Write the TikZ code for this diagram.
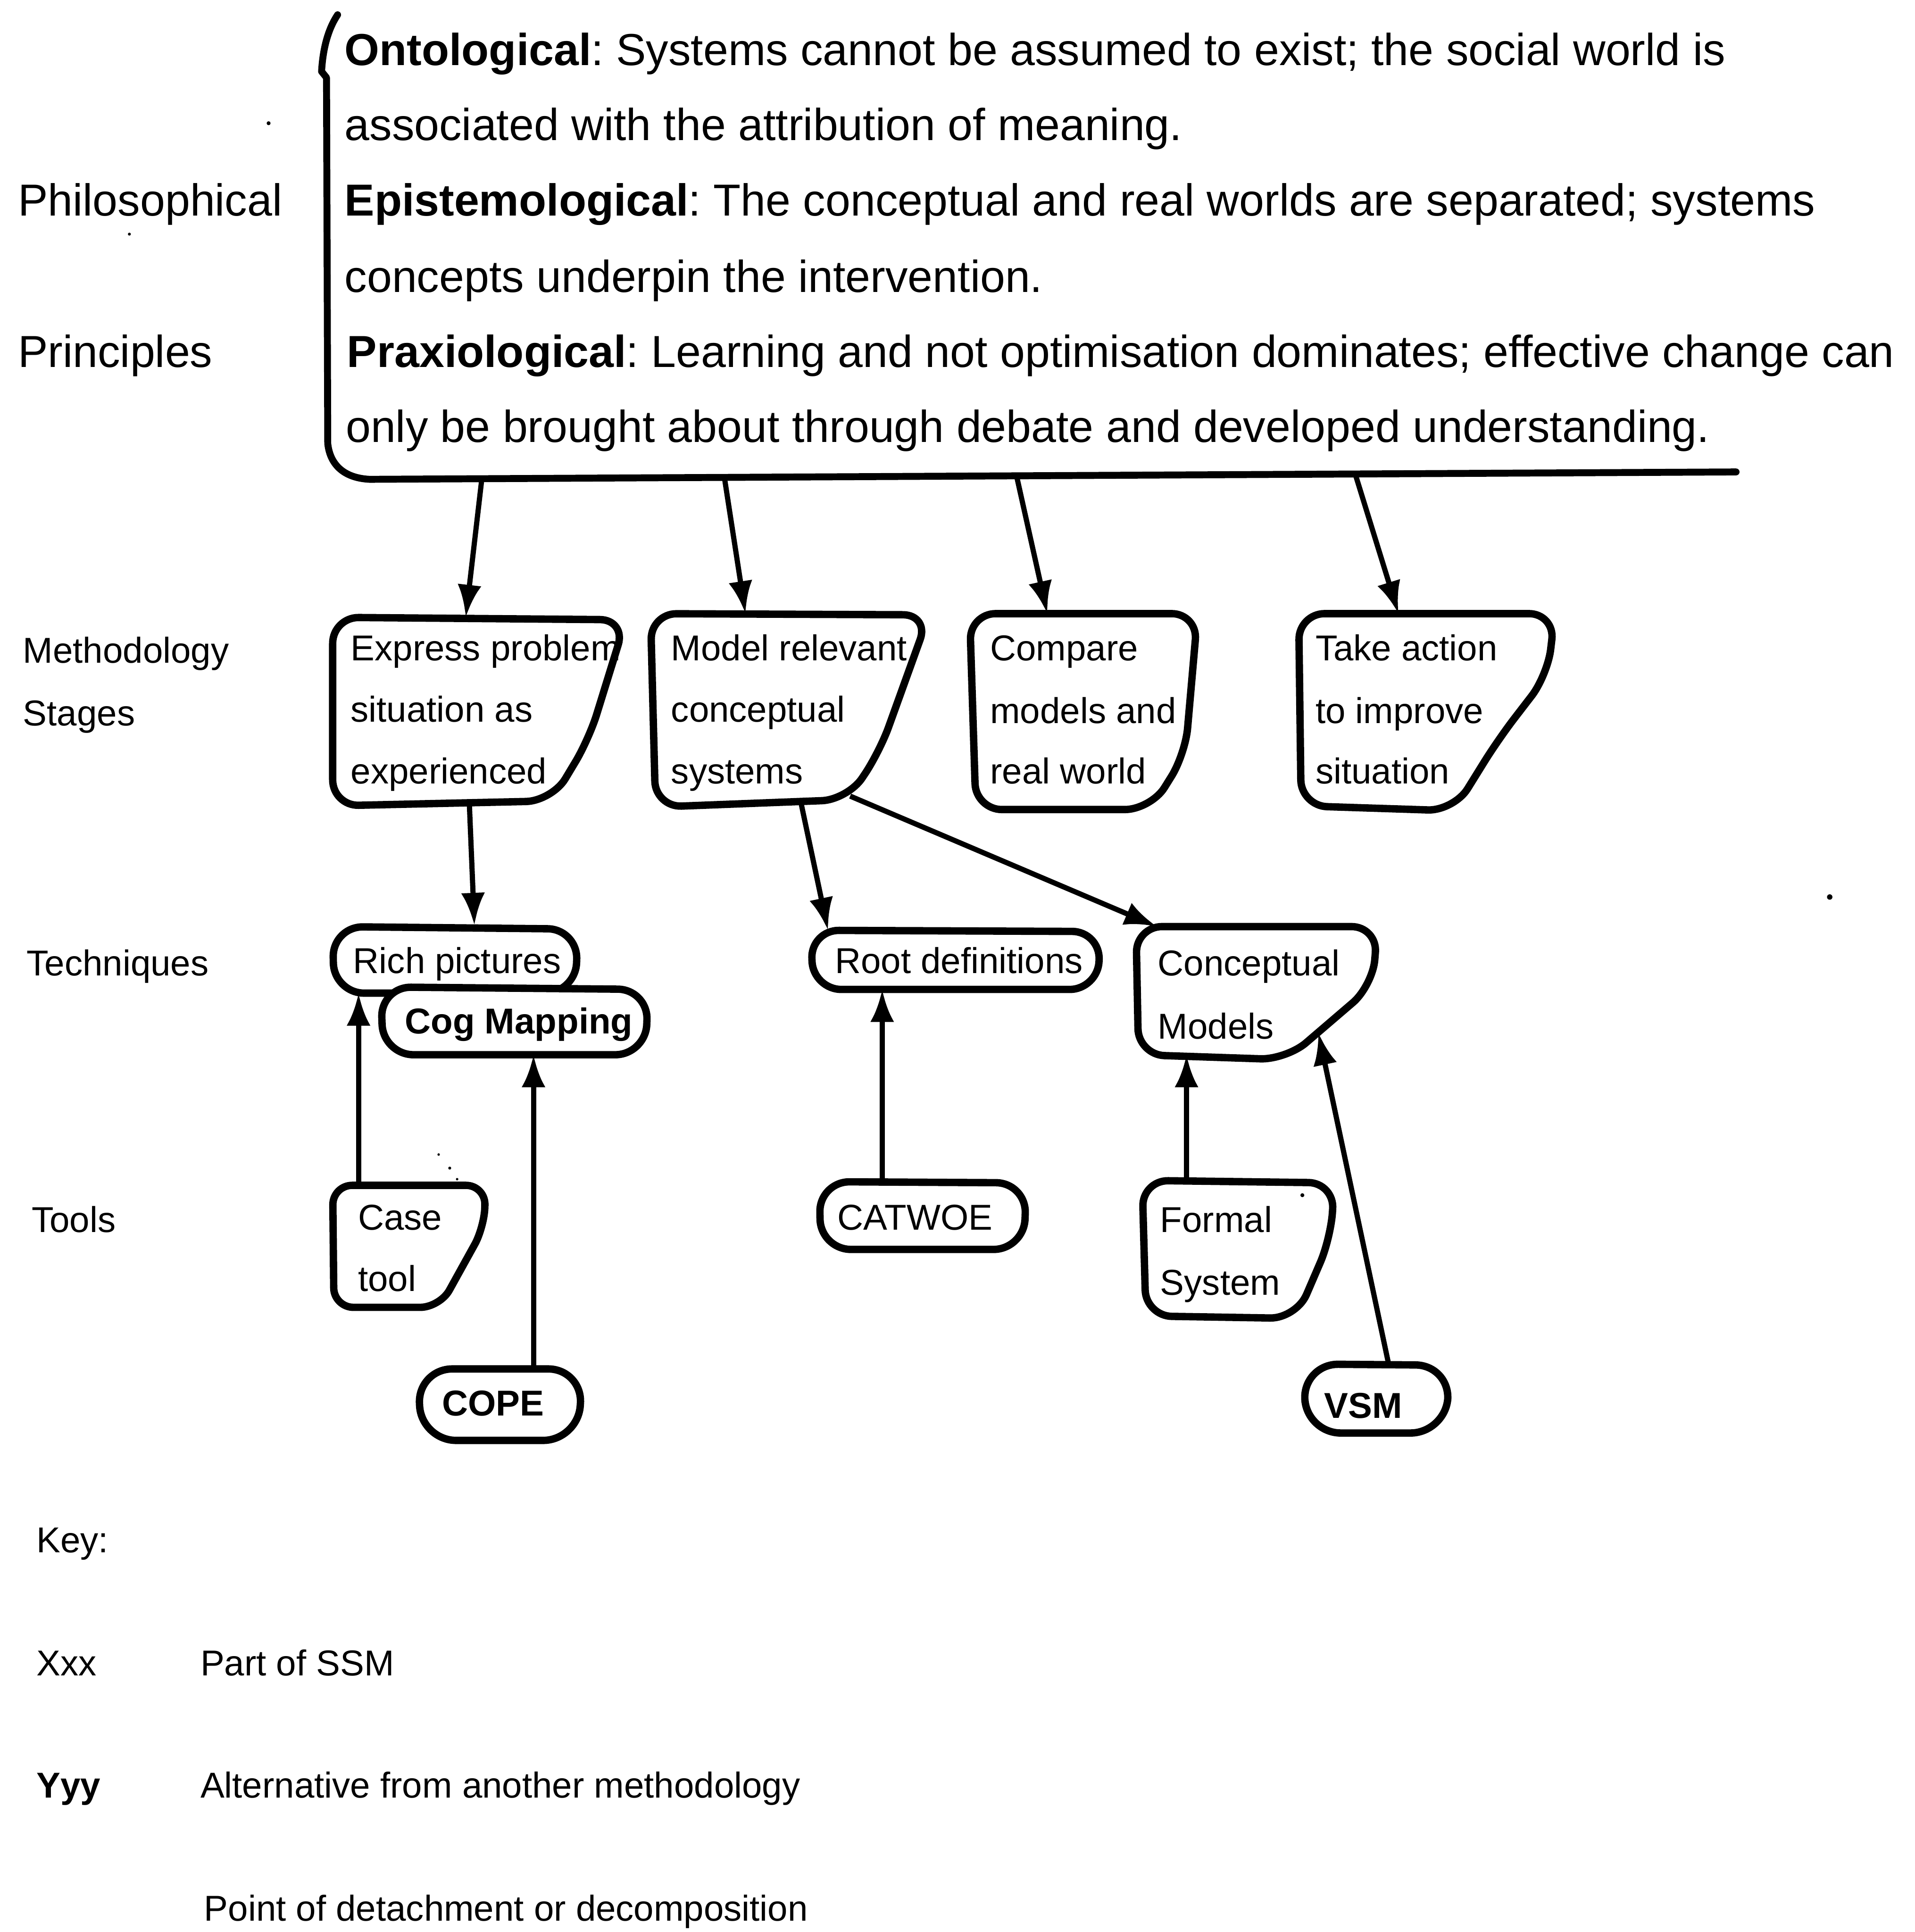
\documentclass[tikz,border=0pt]{standalone}
\usepackage{fontspec}
\setmainfont{Liberation Sans}
\usetikzlibrary{arrows.meta,calc}
\frenchspacing

\tikzset{
  outline/.style={line width=1.7pt, line join=round, rounded corners=6pt, fill=white},
  pill/.style={outline, rounded corners=7pt},
  bracket/.style={line width=1.6pt, line join=round, line cap=round},
  conn/.style={line width=1.2pt, -{Latex[length=7.5pt,width=5.5pt]}},
  frame/.style={draw=none, inner sep=0pt, outer sep=0pt, anchor=north west},
  big/.style={font=\fontsize{10.35}{12}\selectfont, inner sep=0pt, anchor=base west},
  small/.style={font=\fontsize{8.3}{10}\selectfont, inner sep=0pt, anchor=base west},
  smallbold/.style={font=\fontsize{8.3}{10}\selectfont\bfseries, inner sep=0pt, anchor=base west},
  speck/.style={fill=black}
}

\begin{document}
\begin{tikzpicture}[x=0.01cm, y=-0.01cm]
\useasboundingbox (0,0) rectangle (1554,1568);

% ---- principles bracket ----
\draw[bracket] (274,12) .. controls (266,24) and (262,40) .. (261,58) -- (265,63)
  -- (266,360) .. controls (268,378) and (280,388) .. (300,389) -- (1409,383);
\coordinate (b1) at (391,389);
\coordinate (b2) at (588,388);
\coordinate (b3) at (825,386);
\coordinate (b4) at (1100,385);

\node[big] (on1) at (279,53)  {\textbf{Ontological}: Systems cannot be assumed to exist; the social world is};
\node[big] (on2) at (279,114) {associated with the attribution of meaning.};
\node[big] (ep1) at (279,175) {\textbf{Epistemological}: The conceptual and real worlds are separated; systems};
\node[big] (ep2) at (279,237) {concepts underpin the intervention.};
\node[big] (pr1) at (281,298) {\textbf{Praxiological}: Learning and not optimisation dominates; effective change can};
\node[big] (pr2) at (280,359) {only be brought about through debate and developed understanding.};

% ---- row labels ----
\node[big]   (lp1) at (14,175)  {Philosophical};
\node[big]   (lp2) at (14,298)  {Principles};
\node[small] (lm1) at (18,538)  {Methodology};
\node[small] (lm2) at (18,589)  {Stages};
\node[small] (lt)  at (21,792)  {Techniques};
\node[small] (lo)  at (25,1000) {Tools};

% ---- box outlines ----
% methodology stages
\draw[outline] (270,501) -- (508,503) -- (478,600) -- (448,650) -- (270,654) -- cycle;
\draw[outline] (528,498) -- (754,499) -- (714,610) -- (688,649) -- (532,655) -- cycle;
\draw[outline] (787,498) -- (972,498) -- (962,612) -- (934,657) -- (792,657) -- cycle;
\draw[outline] (1054,498) -- (1262,498) -- (1256,548) -- (1216,600) -- (1180,658) -- (1056,654) -- cycle;
% techniques
\draw[pill] (270,752) -- (469,754) -- (467,806) -- (271,806) -- cycle;
\draw[pill] (309,801) -- (526,803) -- (524,856) -- (311,856) -- cycle;
\draw[pill, rounded corners=6.5pt] (658,755) -- (893,756) -- (891,803) -- (660,803) -- cycle;
\draw[outline] (922,752) -- (1118,752) -- (1114,800) -- (1044,860) -- (924,856) -- cycle;
% tools
\draw[outline, rounded corners=4.5pt] (270,962) -- (394,962) -- (393,996) -- (357,1061) -- (271,1061) -- cycle;
\draw[pill] (665,959) -- (833,960) -- (831,1014) -- (666,1014) -- cycle;
\draw[outline] (927,958) -- (1083,960) -- (1080,1005) -- (1052,1070) -- (930,1068) -- cycle;
\draw[pill, rounded corners=8pt] (339,1111) -- (473,1111) -- (469,1169) -- (342,1169) -- cycle;
\draw[pill, rounded corners=8pt] (1058,1107) -- (1177,1108) -- (1173,1163) -- (1060,1163) -- cycle;

% ---- box frames (named areas used by the connectors) ----
\node[frame, minimum width=2.37cm, minimum height=1.53cm] (ex)   at (270,501)  {};
\node[frame, minimum width=2.25cm, minimum height=1.56cm] (mo)   at (528,498)  {};
\node[frame, minimum width=1.86cm, minimum height=1.59cm] (cm)   at (787,498)  {};
\node[frame, minimum width=2.07cm, minimum height=1.59cm] (ta)   at (1054,498) {};
\node[frame, minimum width=2.00cm, minimum height=0.55cm] (rp)   at (270,751)  {};
\node[frame, minimum width=2.17cm, minimum height=0.55cm] (cg)   at (309,801)  {};
\node[frame, minimum width=2.34cm, minimum height=0.48cm] (rd)   at (658,755)  {};
\node[frame, minimum width=1.94cm, minimum height=1.08cm] (cmod) at (923,752)  {};
\node[frame, minimum width=1.24cm, minimum height=0.98cm] (ct)   at (270,962)  {};
\node[frame, minimum width=1.68cm, minimum height=0.57cm] (cw)   at (664,958)  {};
\node[frame, minimum width=1.55cm, minimum height=1.12cm] (fs)   at (927,958)  {};
\node[frame, minimum width=1.33cm, minimum height=0.58cm] (cp)   at (339,1111) {};
\node[frame, minimum width=1.17cm, minimum height=0.56cm] (vs)   at (1058,1107) {};

% ---- connectors ----
\draw[conn] (b1) -- ($(ex.north west)+(108,0)$);
\draw[conn] (b2) -- ($(mo.north west)+(77,0)$);
\draw[conn] (b3) -- ($(cm.north west)+(63,0)$);
\draw[conn] (b4) -- ($(ta.north west)+(81,0)$);
\draw[conn] ($(ex.south west)+(111,0)$) -- ($(rp.north west)+(115,0)$);
\draw[conn] ($(mo.south west)+(122,-3)$) -- ($(rd.north west)+(14,0)$);
\draw[conn] ($(mo.south west)+(162,-8)$) -- ($(cmod.north west)+(16,0)$);
\draw[conn] ($(ct.north west)+(21,0)$) -- ($(rp.south west)+(21,0)$);
\draw[conn] ($(cp.north west)+(94,0)$) -- ($(cg.south west)+(124,0)$);
\draw[conn] ($(cw.north west)+(52,0)$) -- ($(rd.south west)+(58,0)$);
\draw[conn] ($(fs.north west)+(36,0)$) -- ($(cmod.south west)+(40,-4)$);
\draw[conn] ($(vs.north west)+(69,0)$) -- ($(cmod.south west)+(147,-22)$);

% ---- box texts ----
\node[small] (ex1) at (284,536) {Express problem};
\node[small] (ex2) at (284,586) {situation as};
\node[small] (ex3) at (284,636) {experienced};
\node[small] (mo1) at (544,536) {Model relevant};
\node[small] (mo2) at (544,586) {conceptual};
\node[small] (mo3) at (544,636) {systems};
\node[small] (cm1) at (803,536) {Compare};
\node[small] (cm2) at (803,587) {models and};
\node[small] (cm3) at (803,636) {real world};
\node[small] (ta1) at (1067,536) {Take action};
\node[small] (ta2) at (1067,587) {to improve};
\node[small] (ta3) at (1067,636) {situation};

\node[small]     (rp1) at (286,790)  {Rich pictures};
\node[smallbold] (cg1) at (328,839)  {Cog Mapping};
\node[small]     (rd1) at (677,790)  {Root definitions};
\node[small]     (cd1) at (939,792)  {Conceptual};
\node[small]     (cd2) at (939,843)  {Models};

\node[small]     (ct1) at (290,998)  {Case};
\node[small]     (ct2) at (290,1048) {tool};
\node[small]     (cw1) at (679,998)  {CATWOE};
\node[small]     (fs1) at (941,1000) {Formal};
\node[small]     (fs2) at (941,1051) {System};
\node[smallbold] (cp1) at (358,1149) {COPE};
\node[smallbold] (vs1) at (1074,1151) {VSM};

% ---- key ----
\node[small]     (k0)  at (29,1260)  {Key:};
\node[small]     (k1)  at (29,1360)  {Xxx};
\node[small]     (k1t) at (162,1360) {Part of SSM};
\node[smallbold] (k2)  at (29,1459)  {Yyy};
\node[small]     (k2t) at (162,1459) {Alternative from another methodology};
\node[small]     (k3t) at (165,1559) {Point of detachment or decomposition};

% ---- stray specks ----
\fill[speck] (218,100) circle (1.6);
\fill[speck] (105,190) circle (1.2);
\fill[speck] (1485,728) circle (2.2);
\fill[speck] (1057,970) circle (1.6);
\fill[speck] (356,937) circle (1.0);
\fill[speck] (365,948) circle (1.2);
\fill[speck] (371,957) circle (1.0);
\end{tikzpicture}
\end{document}
